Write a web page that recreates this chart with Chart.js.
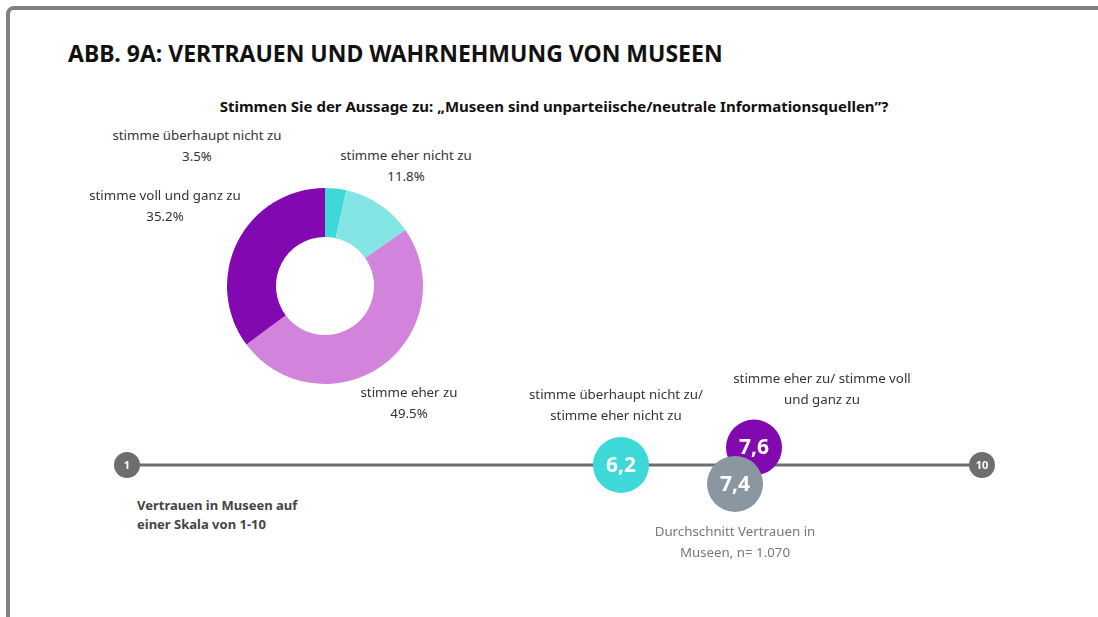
<!DOCTYPE html>
<html lang="de">
<head>
<meta charset="utf-8">
<script src="https://cdn.jsdelivr.net/npm/chart.js@4/dist/chart.umd.min.js"></script>
<style>
  body { margin: 0; width: 1098px; height: 617px; overflow: hidden; background: #fff; font-family: "Noto Sans", sans-serif; position: relative; }
  .frame { position: absolute; left: 6px; top: 6px; width: 1200px; height: 700px; border: 4px solid #808080; border-radius: 8px; }
  .title { position: absolute; left: 68px; top: 37px; font-size: 23px; font-weight: 700; color: #111; white-space: nowrap; }
  .subtitle { position: absolute; left: 0; width: 1108px; top: 96px; text-align: center; font-size: 15px; font-weight: 700; color: #111; }
  .lbl { position: absolute; text-align: center; font-size: 13.3px; line-height: 21px; color: #333; white-space: nowrap; transform: translate(-50%, 0); }
  .note { position: absolute; left: 137px; top: 496px; font-size: 13px; font-weight: 700; line-height: 19px; color: #444; }
  #pie { position: absolute; left: 227px; top: 188px; }
  #scale { position: absolute; left: 0; top: 395px; }
</style>
</head>
<body>
<div class="frame"></div>
<div class="title">ABB. 9A: VERTRAUEN UND WAHRNEHMUNG VON MUSEEN</div>
<div class="subtitle">Stimmen Sie der Aussage zu: „Museen sind unparteiische/neutrale Informationsquellen”?</div>
<div class="note">Vertrauen in Museen auf<br>einer Skala von 1-10</div>
<canvas id="pie" width="196" height="196"></canvas>
<canvas id="scale" width="1098" height="140"></canvas>
<script>
// Donut: Antworten in Prozent
const answers = ['stimme überhaupt nicht zu', 'stimme eher nicht zu', 'stimme eher zu', 'stimme voll und ganz zu'];
const shares = [3.5, 11.8, 49.5, 35.2];
const answerColors = ['#3ed8d8', '#84e5e5', '#d283dc', '#8208b0'];

// Skala 1-10: Mittelwerte
const groups = ['stimme überhaupt nicht zu/\nstimme eher nicht zu', 'stimme eher zu/ stimme voll\nund ganz zu', 'Durchschnitt Vertrauen in\nMuseen, n= 1.070'];
const means = [6.2, 7.6, 7.4];
const groupColors = ['#3ed8d8', '#8208b0', '#8a96a0'];
const scaleEnds = [1, 10];

// Layout der Beschriftungen
const pieLabelPos = [[197, 125], [406, 145], [409, 382], [165, 185]];
const meanRow = [0, 0.25, -0.27];
const groupLabelDx = [-5, 68, 0];
const groupLabelTop = [384, 368, 521];

const pie = new Chart(document.getElementById('pie'), {
  type: 'doughnut',
  data: { labels: answers, datasets: [{ data: shares, backgroundColor: answerColors, borderWidth: 0 }] },
  options: {
    responsive: false, animation: false, cutout: '50%',
    plugins: { legend: { display: false }, tooltip: { enabled: false } }
  }
});

answers.forEach((a, i) => {
  const d = document.createElement('div');
  d.className = 'lbl';
  d.style.left = pieLabelPos[i][0] + 'px';
  d.style.top = pieLabelPos[i][1] + 'px';
  d.innerHTML = a + '<br>' + shares[i].toFixed(1) + '%';
  document.body.appendChild(d);
});

const valueText = {
  id: 'valueText',
  afterDatasetsDraw(chart) {
    const ctx = chart.ctx;
    ctx.save();
    ctx.textAlign = 'center';
    ctx.textBaseline = 'middle';
    ctx.fillStyle = '#fff';
    chart.getDatasetMeta(0).data.forEach((el, i) => {
      ctx.font = 'bold 21px "Noto Sans"';
      ctx.fillText(means[i].toFixed(1).replace('.', ','), el.x, el.y + 1);
    });
    chart.getDatasetMeta(1).data.forEach((el, i) => {
      ctx.font = 'bold 11px "Noto Sans"';
      ctx.fillText(String(scaleEnds[i]), el.x, el.y + 1);
    });
    ctx.restore();
  }
};

const scale = new Chart(document.getElementById('scale'), {
  type: 'bubble',
  data: {
    datasets: [
      {
        data: means.map((m, i) => ({ x: m, y: meanRow[i], r: 28 })),
        backgroundColor: groupColors, borderWidth: 0, clip: false
      },
      {
        type: 'line',
        data: scaleEnds.map(v => ({ x: v, y: 0 })),
        borderColor: '#6e6e6e', borderWidth: 3, clip: false,
        pointRadius: 13, pointBackgroundColor: '#6e6e6e', pointBorderWidth: 0
      }
    ]
  },
  options: {
    responsive: false, animation: false,
    layout: { autoPadding: false, padding: { left: 127, right: 116, top: 0, bottom: 0 } },
    scales: {
      x: { type: 'linear', min: 1, max: 10, display: false },
      y: { min: -1, max: 1, display: false }
    },
    plugins: { legend: { display: false }, tooltip: { enabled: false } }
  },
  plugins: [valueText]
});

const xs = scale.scales.x;
groups.forEach((g, i) => {
  const d = document.createElement('div');
  d.className = 'lbl';
  d.style.left = (xs.getPixelForValue(means[i]) + groupLabelDx[i]) + 'px';
  d.style.top = groupLabelTop[i] + 'px';
  if (i === 2) d.style.color = '#777';
  d.innerHTML = g.replace('\n', '<br>');
  document.body.appendChild(d);
});
</script>
</body>
</html>
